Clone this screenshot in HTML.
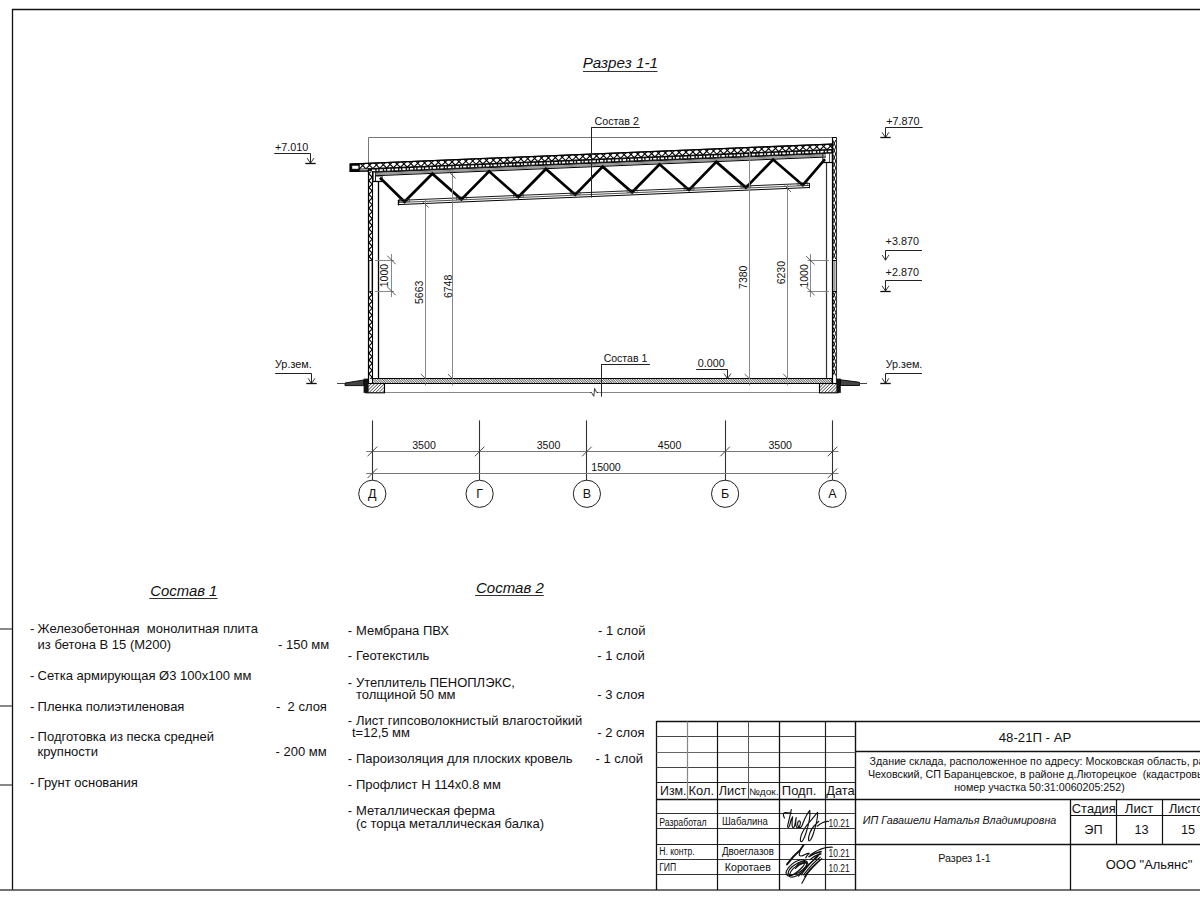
<!DOCTYPE html><html><head><meta charset="utf-8"><style>html,body{margin:0;padding:0;background:#fff;}svg{display:block;}text{font-family:"Liberation Sans", sans-serif;white-space:pre;}</style></head><body>
<svg width="1200" height="900" viewBox="0 0 1200 900">
<defs>
<pattern id="hatch" patternUnits="userSpaceOnUse" width="2.3" height="2.3" patternTransform="rotate(45)"><rect width="2.3" height="2.3" fill="#fff"/><line x1="0" y1="0" x2="0" y2="2.3" stroke="#000" stroke-width="1.05"/></pattern>
<pattern id="hatch2" patternUnits="userSpaceOnUse" width="1.7" height="1.7" patternTransform="rotate(-45)"><rect width="1.7" height="1.7" fill="#fff"/><line x1="0" y1="0" x2="0" y2="1.7" stroke="#000" stroke-width="1.1"/></pattern>
</defs>
<rect width="1200" height="900" fill="#fff"/>
<line x1="12.00" y1="9.50" x2="1200.00" y2="9.50" stroke="#111" stroke-width="1.4" />
<line x1="12.50" y1="9.00" x2="12.50" y2="890.00" stroke="#111" stroke-width="1.3" />
<line x1="0.00" y1="890.00" x2="1200.00" y2="890.00" stroke="#444" stroke-width="1.6" />
<line x1="0.00" y1="629.00" x2="12.00" y2="629.00" stroke="#555" stroke-width="1.4" />
<line x1="0.00" y1="706.00" x2="12.00" y2="706.00" stroke="#555" stroke-width="1.4" />
<line x1="0.00" y1="785.00" x2="12.00" y2="785.00" stroke="#555" stroke-width="1.4" />
<text x="620.30" y="68.40" font-size="15.2" text-anchor="middle" font-style="italic" fill="#111" >Разрез 1-1</text>
<line x1="583.00" y1="71.50" x2="657.50" y2="71.50" stroke="#333" stroke-width="1.2" />
<line x1="368.50" y1="137.50" x2="832.50" y2="137.50" stroke="#777" stroke-width="1.0" />
<line x1="368.50" y1="137.50" x2="368.50" y2="164.50" stroke="#777" stroke-width="1.0" />
<polygon points="359.00,163.63 832.20,143.99 832.20,149.49 359.00,169.13" stroke="#000" stroke-width="0.9" fill="#fff" />
<clipPath id="insclip"><polygon points="359,163.63 832.2,143.99 832.2,149.79 359,169.43"/></clipPath>
<path d="M346.60,163.81 L352.20,169.41 L357.80,163.81 M353.48,163.52 L359.08,169.12 L364.68,163.52 M360.36,163.24 L365.96,168.84 L371.56,163.24 M367.24,162.95 L372.84,168.55 L378.44,162.95 M374.12,162.67 L379.72,168.27 L385.32,162.67 M381.00,162.38 L386.60,167.98 L392.20,162.38 M387.88,162.10 L393.48,167.70 L399.08,162.10 M394.76,161.81 L400.36,167.41 L405.96,161.81 M401.64,161.52 L407.24,167.12 L412.84,161.52 M408.52,161.24 L414.12,166.84 L419.72,161.24 M415.40,160.95 L421.00,166.55 L426.60,160.95 M422.28,160.67 L427.88,166.27 L433.48,160.67 M429.16,160.38 L434.76,165.98 L440.36,160.38 M436.04,160.10 L441.64,165.70 L447.24,160.10 M442.92,159.81 L448.52,165.41 L454.12,159.81 M449.80,159.53 L455.40,165.13 L461.00,159.53 M456.68,159.24 L462.28,164.84 L467.88,159.24 M463.56,158.95 L469.16,164.55 L474.76,158.95 M470.44,158.67 L476.04,164.27 L481.64,158.67 M477.32,158.38 L482.92,163.98 L488.52,158.38 M484.20,158.10 L489.80,163.70 L495.40,158.10 M491.08,157.81 L496.68,163.41 L502.28,157.81 M497.96,157.53 L503.56,163.13 L509.16,157.53 M504.84,157.24 L510.44,162.84 L516.04,157.24 M511.72,156.96 L517.32,162.56 L522.92,156.96 M518.60,156.67 L524.20,162.27 L529.80,156.67 M525.48,156.39 L531.08,161.99 L536.68,156.39 M532.36,156.10 L537.96,161.70 L543.56,156.10 M539.24,155.81 L544.84,161.41 L550.44,155.81 M546.12,155.53 L551.72,161.13 L557.32,155.53 M553.00,155.24 L558.60,160.84 L564.20,155.24 M559.88,154.96 L565.48,160.56 L571.08,154.96 M566.76,154.67 L572.36,160.27 L577.96,154.67 M573.64,154.39 L579.24,159.99 L584.84,154.39 M580.52,154.10 L586.12,159.70 L591.72,154.10 M587.40,153.82 L593.00,159.42 L598.60,153.82 M594.28,153.53 L599.88,159.13 L605.48,153.53 M601.16,153.24 L606.76,158.84 L612.36,153.24 M608.04,152.96 L613.64,158.56 L619.24,152.96 M614.92,152.67 L620.52,158.27 L626.12,152.67 M621.80,152.39 L627.40,157.99 L633.00,152.39 M628.68,152.10 L634.28,157.70 L639.88,152.10 M635.56,151.82 L641.16,157.42 L646.76,151.82 M642.44,151.53 L648.04,157.13 L653.64,151.53 M649.32,151.25 L654.92,156.85 L660.52,151.25 M656.20,150.96 L661.80,156.56 L667.40,150.96 M663.08,150.67 L668.68,156.27 L674.28,150.67 M669.96,150.39 L675.56,155.99 L681.16,150.39 M676.84,150.10 L682.44,155.70 L688.04,150.10 M683.72,149.82 L689.32,155.42 L694.92,149.82 M690.60,149.53 L696.20,155.13 L701.80,149.53 M697.48,149.25 L703.08,154.85 L708.68,149.25 M704.36,148.96 L709.96,154.56 L715.56,148.96 M711.24,148.68 L716.84,154.28 L722.44,148.68 M718.12,148.39 L723.72,153.99 L729.32,148.39 M725.00,148.11 L730.60,153.71 L736.20,148.11 M731.88,147.82 L737.48,153.42 L743.08,147.82 M738.76,147.53 L744.36,153.13 L749.96,147.53 M745.64,147.25 L751.24,152.85 L756.84,147.25 M752.52,146.96 L758.12,152.56 L763.72,146.96 M759.40,146.68 L765.00,152.28 L770.60,146.68 M766.28,146.39 L771.88,151.99 L777.48,146.39 M773.16,146.11 L778.76,151.71 L784.36,146.11 M780.04,145.82 L785.64,151.42 L791.24,145.82 M786.92,145.54 L792.52,151.14 L798.12,145.54 M793.80,145.25 L799.40,150.85 L805.00,145.25 M800.68,144.96 L806.28,150.56 L811.88,144.96 M807.56,144.68 L813.16,150.28 L818.76,144.68 M814.44,144.39 L820.04,149.99 L825.64,144.39 M821.32,144.11 L826.92,149.71 L832.52,144.11 M828.20,143.82 L833.80,149.42 L839.40,143.82 M835.08,143.54 L840.68,149.14 L846.28,143.54" fill="none" stroke="#000" stroke-width="1.1" clip-path="url(#insclip)"/>
<polygon points="368.00,168.75 832.20,149.49 832.20,152.99 368.00,172.25" stroke="#000" stroke-width="0.6" fill="#111" />
<rect x="372.00" y="169.59" width="3.2" height="1.7" fill="#fff" transform="rotate(-2.38 372.00 169.59)"/>
<rect x="376.60" y="169.40" width="1.6" height="1.7" fill="#fff" transform="rotate(-2.38 376.60 169.40)"/>
<rect x="379.60" y="169.27" width="3.2" height="1.7" fill="#fff" transform="rotate(-2.38 379.60 169.27)"/>
<rect x="384.20" y="169.08" width="1.6" height="1.7" fill="#fff" transform="rotate(-2.38 384.20 169.08)"/>
<rect x="387.20" y="168.96" width="3.2" height="1.7" fill="#fff" transform="rotate(-2.38 387.20 168.96)"/>
<rect x="391.80" y="168.77" width="1.6" height="1.7" fill="#fff" transform="rotate(-2.38 391.80 168.77)"/>
<rect x="394.80" y="168.64" width="3.2" height="1.7" fill="#fff" transform="rotate(-2.38 394.80 168.64)"/>
<rect x="399.40" y="168.45" width="1.6" height="1.7" fill="#fff" transform="rotate(-2.38 399.40 168.45)"/>
<rect x="402.40" y="168.33" width="3.2" height="1.7" fill="#fff" transform="rotate(-2.38 402.40 168.33)"/>
<rect x="407.00" y="168.13" width="1.6" height="1.7" fill="#fff" transform="rotate(-2.38 407.00 168.13)"/>
<rect x="410.00" y="168.01" width="3.2" height="1.7" fill="#fff" transform="rotate(-2.38 410.00 168.01)"/>
<rect x="414.60" y="167.82" width="1.6" height="1.7" fill="#fff" transform="rotate(-2.38 414.60 167.82)"/>
<rect x="417.60" y="167.69" width="3.2" height="1.7" fill="#fff" transform="rotate(-2.38 417.60 167.69)"/>
<rect x="422.20" y="167.50" width="1.6" height="1.7" fill="#fff" transform="rotate(-2.38 422.20 167.50)"/>
<rect x="425.20" y="167.38" width="3.2" height="1.7" fill="#fff" transform="rotate(-2.38 425.20 167.38)"/>
<rect x="429.80" y="167.19" width="1.6" height="1.7" fill="#fff" transform="rotate(-2.38 429.80 167.19)"/>
<rect x="432.80" y="167.06" width="3.2" height="1.7" fill="#fff" transform="rotate(-2.38 432.80 167.06)"/>
<rect x="437.40" y="166.87" width="1.6" height="1.7" fill="#fff" transform="rotate(-2.38 437.40 166.87)"/>
<rect x="440.40" y="166.75" width="3.2" height="1.7" fill="#fff" transform="rotate(-2.38 440.40 166.75)"/>
<rect x="445.00" y="166.56" width="1.6" height="1.7" fill="#fff" transform="rotate(-2.38 445.00 166.56)"/>
<rect x="448.00" y="166.43" width="3.2" height="1.7" fill="#fff" transform="rotate(-2.38 448.00 166.43)"/>
<rect x="452.60" y="166.24" width="1.6" height="1.7" fill="#fff" transform="rotate(-2.38 452.60 166.24)"/>
<rect x="455.60" y="166.12" width="3.2" height="1.7" fill="#fff" transform="rotate(-2.38 455.60 166.12)"/>
<rect x="460.20" y="165.93" width="1.6" height="1.7" fill="#fff" transform="rotate(-2.38 460.20 165.93)"/>
<rect x="463.20" y="165.80" width="3.2" height="1.7" fill="#fff" transform="rotate(-2.38 463.20 165.80)"/>
<rect x="467.80" y="165.61" width="1.6" height="1.7" fill="#fff" transform="rotate(-2.38 467.80 165.61)"/>
<rect x="470.80" y="165.49" width="3.2" height="1.7" fill="#fff" transform="rotate(-2.38 470.80 165.49)"/>
<rect x="475.40" y="165.30" width="1.6" height="1.7" fill="#fff" transform="rotate(-2.38 475.40 165.30)"/>
<rect x="478.40" y="165.17" width="3.2" height="1.7" fill="#fff" transform="rotate(-2.38 478.40 165.17)"/>
<rect x="483.00" y="164.98" width="1.6" height="1.7" fill="#fff" transform="rotate(-2.38 483.00 164.98)"/>
<rect x="486.00" y="164.86" width="3.2" height="1.7" fill="#fff" transform="rotate(-2.38 486.00 164.86)"/>
<rect x="490.60" y="164.67" width="1.6" height="1.7" fill="#fff" transform="rotate(-2.38 490.60 164.67)"/>
<rect x="493.60" y="164.54" width="3.2" height="1.7" fill="#fff" transform="rotate(-2.38 493.60 164.54)"/>
<rect x="498.20" y="164.35" width="1.6" height="1.7" fill="#fff" transform="rotate(-2.38 498.20 164.35)"/>
<rect x="501.20" y="164.23" width="3.2" height="1.7" fill="#fff" transform="rotate(-2.38 501.20 164.23)"/>
<rect x="505.80" y="164.03" width="1.6" height="1.7" fill="#fff" transform="rotate(-2.38 505.80 164.03)"/>
<rect x="508.80" y="163.91" width="3.2" height="1.7" fill="#fff" transform="rotate(-2.38 508.80 163.91)"/>
<rect x="513.40" y="163.72" width="1.6" height="1.7" fill="#fff" transform="rotate(-2.38 513.40 163.72)"/>
<rect x="516.40" y="163.59" width="3.2" height="1.7" fill="#fff" transform="rotate(-2.38 516.40 163.59)"/>
<rect x="521.00" y="163.40" width="1.6" height="1.7" fill="#fff" transform="rotate(-2.38 521.00 163.40)"/>
<rect x="524.00" y="163.28" width="3.2" height="1.7" fill="#fff" transform="rotate(-2.38 524.00 163.28)"/>
<rect x="528.60" y="163.09" width="1.6" height="1.7" fill="#fff" transform="rotate(-2.38 528.60 163.09)"/>
<rect x="531.60" y="162.96" width="3.2" height="1.7" fill="#fff" transform="rotate(-2.38 531.60 162.96)"/>
<rect x="536.20" y="162.77" width="1.6" height="1.7" fill="#fff" transform="rotate(-2.38 536.20 162.77)"/>
<rect x="539.20" y="162.65" width="3.2" height="1.7" fill="#fff" transform="rotate(-2.38 539.20 162.65)"/>
<rect x="543.80" y="162.46" width="1.6" height="1.7" fill="#fff" transform="rotate(-2.38 543.80 162.46)"/>
<rect x="546.80" y="162.33" width="3.2" height="1.7" fill="#fff" transform="rotate(-2.38 546.80 162.33)"/>
<rect x="551.40" y="162.14" width="1.6" height="1.7" fill="#fff" transform="rotate(-2.38 551.40 162.14)"/>
<rect x="554.40" y="162.02" width="3.2" height="1.7" fill="#fff" transform="rotate(-2.38 554.40 162.02)"/>
<rect x="559.00" y="161.83" width="1.6" height="1.7" fill="#fff" transform="rotate(-2.38 559.00 161.83)"/>
<rect x="562.00" y="161.70" width="3.2" height="1.7" fill="#fff" transform="rotate(-2.38 562.00 161.70)"/>
<rect x="566.60" y="161.51" width="1.6" height="1.7" fill="#fff" transform="rotate(-2.38 566.60 161.51)"/>
<rect x="569.60" y="161.39" width="3.2" height="1.7" fill="#fff" transform="rotate(-2.38 569.60 161.39)"/>
<rect x="574.20" y="161.20" width="1.6" height="1.7" fill="#fff" transform="rotate(-2.38 574.20 161.20)"/>
<rect x="577.20" y="161.07" width="3.2" height="1.7" fill="#fff" transform="rotate(-2.38 577.20 161.07)"/>
<rect x="581.80" y="160.88" width="1.6" height="1.7" fill="#fff" transform="rotate(-2.38 581.80 160.88)"/>
<rect x="584.80" y="160.76" width="3.2" height="1.7" fill="#fff" transform="rotate(-2.38 584.80 160.76)"/>
<rect x="589.40" y="160.56" width="1.6" height="1.7" fill="#fff" transform="rotate(-2.38 589.40 160.56)"/>
<rect x="592.40" y="160.44" width="3.2" height="1.7" fill="#fff" transform="rotate(-2.38 592.40 160.44)"/>
<rect x="597.00" y="160.25" width="1.6" height="1.7" fill="#fff" transform="rotate(-2.38 597.00 160.25)"/>
<rect x="600.00" y="160.12" width="3.2" height="1.7" fill="#fff" transform="rotate(-2.38 600.00 160.12)"/>
<rect x="604.60" y="159.93" width="1.6" height="1.7" fill="#fff" transform="rotate(-2.38 604.60 159.93)"/>
<rect x="607.60" y="159.81" width="3.2" height="1.7" fill="#fff" transform="rotate(-2.38 607.60 159.81)"/>
<rect x="612.20" y="159.62" width="1.6" height="1.7" fill="#fff" transform="rotate(-2.38 612.20 159.62)"/>
<rect x="615.20" y="159.49" width="3.2" height="1.7" fill="#fff" transform="rotate(-2.38 615.20 159.49)"/>
<rect x="619.80" y="159.30" width="1.6" height="1.7" fill="#fff" transform="rotate(-2.38 619.80 159.30)"/>
<rect x="622.80" y="159.18" width="3.2" height="1.7" fill="#fff" transform="rotate(-2.38 622.80 159.18)"/>
<rect x="627.40" y="158.99" width="1.6" height="1.7" fill="#fff" transform="rotate(-2.38 627.40 158.99)"/>
<rect x="630.40" y="158.86" width="3.2" height="1.7" fill="#fff" transform="rotate(-2.38 630.40 158.86)"/>
<rect x="635.00" y="158.67" width="1.6" height="1.7" fill="#fff" transform="rotate(-2.38 635.00 158.67)"/>
<rect x="638.00" y="158.55" width="3.2" height="1.7" fill="#fff" transform="rotate(-2.38 638.00 158.55)"/>
<rect x="642.60" y="158.36" width="1.6" height="1.7" fill="#fff" transform="rotate(-2.38 642.60 158.36)"/>
<rect x="645.60" y="158.23" width="3.2" height="1.7" fill="#fff" transform="rotate(-2.38 645.60 158.23)"/>
<rect x="650.20" y="158.04" width="1.6" height="1.7" fill="#fff" transform="rotate(-2.38 650.20 158.04)"/>
<rect x="653.20" y="157.92" width="3.2" height="1.7" fill="#fff" transform="rotate(-2.38 653.20 157.92)"/>
<rect x="657.80" y="157.73" width="1.6" height="1.7" fill="#fff" transform="rotate(-2.38 657.80 157.73)"/>
<rect x="660.80" y="157.60" width="3.2" height="1.7" fill="#fff" transform="rotate(-2.38 660.80 157.60)"/>
<rect x="665.40" y="157.41" width="1.6" height="1.7" fill="#fff" transform="rotate(-2.38 665.40 157.41)"/>
<rect x="668.40" y="157.29" width="3.2" height="1.7" fill="#fff" transform="rotate(-2.38 668.40 157.29)"/>
<rect x="673.00" y="157.10" width="1.6" height="1.7" fill="#fff" transform="rotate(-2.38 673.00 157.10)"/>
<rect x="676.00" y="156.97" width="3.2" height="1.7" fill="#fff" transform="rotate(-2.38 676.00 156.97)"/>
<rect x="680.60" y="156.78" width="1.6" height="1.7" fill="#fff" transform="rotate(-2.38 680.60 156.78)"/>
<rect x="683.60" y="156.66" width="3.2" height="1.7" fill="#fff" transform="rotate(-2.38 683.60 156.66)"/>
<rect x="688.20" y="156.46" width="1.6" height="1.7" fill="#fff" transform="rotate(-2.38 688.20 156.46)"/>
<rect x="691.20" y="156.34" width="3.2" height="1.7" fill="#fff" transform="rotate(-2.38 691.20 156.34)"/>
<rect x="695.80" y="156.15" width="1.6" height="1.7" fill="#fff" transform="rotate(-2.38 695.80 156.15)"/>
<rect x="698.80" y="156.02" width="3.2" height="1.7" fill="#fff" transform="rotate(-2.38 698.80 156.02)"/>
<rect x="703.40" y="155.83" width="1.6" height="1.7" fill="#fff" transform="rotate(-2.38 703.40 155.83)"/>
<rect x="706.40" y="155.71" width="3.2" height="1.7" fill="#fff" transform="rotate(-2.38 706.40 155.71)"/>
<rect x="711.00" y="155.52" width="1.6" height="1.7" fill="#fff" transform="rotate(-2.38 711.00 155.52)"/>
<rect x="714.00" y="155.39" width="3.2" height="1.7" fill="#fff" transform="rotate(-2.38 714.00 155.39)"/>
<rect x="718.60" y="155.20" width="1.6" height="1.7" fill="#fff" transform="rotate(-2.38 718.60 155.20)"/>
<rect x="721.60" y="155.08" width="3.2" height="1.7" fill="#fff" transform="rotate(-2.38 721.60 155.08)"/>
<rect x="726.20" y="154.89" width="1.6" height="1.7" fill="#fff" transform="rotate(-2.38 726.20 154.89)"/>
<rect x="729.20" y="154.76" width="3.2" height="1.7" fill="#fff" transform="rotate(-2.38 729.20 154.76)"/>
<rect x="733.80" y="154.57" width="1.6" height="1.7" fill="#fff" transform="rotate(-2.38 733.80 154.57)"/>
<rect x="736.80" y="154.45" width="3.2" height="1.7" fill="#fff" transform="rotate(-2.38 736.80 154.45)"/>
<rect x="741.40" y="154.26" width="1.6" height="1.7" fill="#fff" transform="rotate(-2.38 741.40 154.26)"/>
<rect x="744.40" y="154.13" width="3.2" height="1.7" fill="#fff" transform="rotate(-2.38 744.40 154.13)"/>
<rect x="749.00" y="153.94" width="1.6" height="1.7" fill="#fff" transform="rotate(-2.38 749.00 153.94)"/>
<rect x="752.00" y="153.82" width="3.2" height="1.7" fill="#fff" transform="rotate(-2.38 752.00 153.82)"/>
<rect x="756.60" y="153.63" width="1.6" height="1.7" fill="#fff" transform="rotate(-2.38 756.60 153.63)"/>
<rect x="759.60" y="153.50" width="3.2" height="1.7" fill="#fff" transform="rotate(-2.38 759.60 153.50)"/>
<rect x="764.20" y="153.31" width="1.6" height="1.7" fill="#fff" transform="rotate(-2.38 764.20 153.31)"/>
<rect x="767.20" y="153.19" width="3.2" height="1.7" fill="#fff" transform="rotate(-2.38 767.20 153.19)"/>
<rect x="771.80" y="153.00" width="1.6" height="1.7" fill="#fff" transform="rotate(-2.38 771.80 153.00)"/>
<rect x="774.80" y="152.87" width="3.2" height="1.7" fill="#fff" transform="rotate(-2.38 774.80 152.87)"/>
<rect x="779.40" y="152.68" width="1.6" height="1.7" fill="#fff" transform="rotate(-2.38 779.40 152.68)"/>
<rect x="782.40" y="152.56" width="3.2" height="1.7" fill="#fff" transform="rotate(-2.38 782.40 152.56)"/>
<rect x="787.00" y="152.36" width="1.6" height="1.7" fill="#fff" transform="rotate(-2.38 787.00 152.36)"/>
<rect x="790.00" y="152.24" width="3.2" height="1.7" fill="#fff" transform="rotate(-2.38 790.00 152.24)"/>
<rect x="794.60" y="152.05" width="1.6" height="1.7" fill="#fff" transform="rotate(-2.38 794.60 152.05)"/>
<rect x="797.60" y="151.92" width="3.2" height="1.7" fill="#fff" transform="rotate(-2.38 797.60 151.92)"/>
<rect x="802.20" y="151.73" width="1.6" height="1.7" fill="#fff" transform="rotate(-2.38 802.20 151.73)"/>
<rect x="805.20" y="151.61" width="3.2" height="1.7" fill="#fff" transform="rotate(-2.38 805.20 151.61)"/>
<rect x="809.80" y="151.42" width="1.6" height="1.7" fill="#fff" transform="rotate(-2.38 809.80 151.42)"/>
<rect x="812.80" y="151.29" width="3.2" height="1.7" fill="#fff" transform="rotate(-2.38 812.80 151.29)"/>
<rect x="817.40" y="151.10" width="1.6" height="1.7" fill="#fff" transform="rotate(-2.38 817.40 151.10)"/>
<rect x="820.40" y="150.98" width="3.2" height="1.7" fill="#fff" transform="rotate(-2.38 820.40 150.98)"/>
<rect x="825.00" y="150.79" width="1.6" height="1.7" fill="#fff" transform="rotate(-2.38 825.00 150.79)"/>
<rect x="828.00" y="150.66" width="3.2" height="1.7" fill="#fff" transform="rotate(-2.38 828.00 150.66)"/>
<line x1="350.00" y1="164.10" x2="832.20" y2="144.10" stroke="#000" stroke-width="1.3" />
<polygon points="350.00,164.00 359.00,163.63 359.00,171.40 350.00,171.40" stroke="#000" stroke-width="1.2" fill="#111" />
<rect x="352.2" y="165.8" width="6.2" height="3.0" fill="#fff"/>
<line x1="350.00" y1="171.30" x2="368.00" y2="171.00" stroke="#000" stroke-width="1.4" />
<line x1="375.50" y1="172.34" x2="826.00" y2="153.65" stroke="#000" stroke-width="0.9" />
<line x1="375.50" y1="173.54" x2="826.00" y2="154.85" stroke="#333" stroke-width="0.6" />
<line x1="375.50" y1="174.64" x2="826.00" y2="155.95" stroke="#333" stroke-width="0.6" />
<line x1="375.50" y1="175.74" x2="826.00" y2="157.05" stroke="#000" stroke-width="1.0" />
<line x1="397.80" y1="200.42" x2="809.00" y2="183.35" stroke="#000" stroke-width="0.9" />
<line x1="397.80" y1="202.52" x2="809.00" y2="185.45" stroke="#222" stroke-width="0.8" />
<line x1="397.80" y1="204.62" x2="809.00" y2="187.55" stroke="#000" stroke-width="1.0" />
<line x1="398.50" y1="199.72" x2="398.50" y2="205.32" stroke="#000" stroke-width="1.2" />
<line x1="809.50" y1="182.95" x2="809.50" y2="188.25" stroke="#111" stroke-width="1.0" />
<polyline points="380.00,177.80 404.50,201.74 432.30,173.68 461.40,199.38 489.10,171.33 518.30,197.02 545.90,168.97 575.20,194.65 602.70,166.61 632.10,192.29 659.50,164.26 689.00,189.93 716.30,161.90 745.90,187.57 773.10,159.54 802.80,185.21 825.00,159.20" stroke="#000" stroke-width="2.7" fill="none" stroke-linejoin="miter"/>
<rect x="399.50" y="199.24" width="10" height="2.5" fill="none" stroke="#333" stroke-width="0.6"/>
<rect x="456.40" y="196.88" width="10" height="2.5" fill="none" stroke="#333" stroke-width="0.6"/>
<rect x="513.30" y="194.52" width="10" height="2.5" fill="none" stroke="#333" stroke-width="0.6"/>
<rect x="570.20" y="192.15" width="10" height="2.5" fill="none" stroke="#333" stroke-width="0.6"/>
<rect x="627.10" y="189.79" width="10" height="2.5" fill="none" stroke="#333" stroke-width="0.6"/>
<rect x="684.00" y="187.43" width="10" height="2.5" fill="none" stroke="#333" stroke-width="0.6"/>
<rect x="740.90" y="185.07" width="10" height="2.5" fill="none" stroke="#333" stroke-width="0.6"/>
<rect x="797.80" y="182.71" width="10" height="2.5" fill="none" stroke="#333" stroke-width="0.6"/>
<rect x="368.4" y="171" width="4.3" height="212" fill="#fff"/>
<clipPath id="wc171"><rect x="368.60" y="171.50" width="4.00" height="88.50"/></clipPath>
<path d="M373.10,155.60 L368.80,159.90 L373.10,164.20 M373.10,162.50 L368.80,166.80 L373.10,171.10 M373.10,169.40 L368.80,173.70 L373.10,178.00 M373.10,176.30 L368.80,180.60 L373.10,184.90 M373.10,183.20 L368.80,187.50 L373.10,191.80 M373.10,190.10 L368.80,194.40 L373.10,198.70 M373.10,197.00 L368.80,201.30 L373.10,205.60 M373.10,203.90 L368.80,208.20 L373.10,212.50 M373.10,210.80 L368.80,215.10 L373.10,219.40 M373.10,217.70 L368.80,222.00 L373.10,226.30 M373.10,224.60 L368.80,228.90 L373.10,233.20 M373.10,231.50 L368.80,235.80 L373.10,240.10 M373.10,238.40 L368.80,242.70 L373.10,247.00 M373.10,245.30 L368.80,249.60 L373.10,253.90 M373.10,252.20 L368.80,256.50 L373.10,260.80 M373.10,259.10 L368.80,263.40 L373.10,267.70" fill="none" stroke="#000" stroke-width="1.2" clip-path="url(#wc171)"/>
<clipPath id="wc291"><rect x="368.60" y="291.00" width="4.00" height="88.00"/></clipPath>
<path d="M373.10,272.90 L368.80,277.20 L373.10,281.50 M373.10,279.80 L368.80,284.10 L373.10,288.40 M373.10,286.70 L368.80,291.00 L373.10,295.30 M373.10,293.60 L368.80,297.90 L373.10,302.20 M373.10,300.50 L368.80,304.80 L373.10,309.10 M373.10,307.40 L368.80,311.70 L373.10,316.00 M373.10,314.30 L368.80,318.60 L373.10,322.90 M373.10,321.20 L368.80,325.50 L373.10,329.80 M373.10,328.10 L368.80,332.40 L373.10,336.70 M373.10,335.00 L368.80,339.30 L373.10,343.60 M373.10,341.90 L368.80,346.20 L373.10,350.50 M373.10,348.80 L368.80,353.10 L373.10,357.40 M373.10,355.70 L368.80,360.00 L373.10,364.30 M373.10,362.60 L368.80,366.90 L373.10,371.20 M373.10,369.50 L368.80,373.80 L373.10,378.10 M373.10,376.40 L368.80,380.70 L373.10,385.00" fill="none" stroke="#000" stroke-width="1.2" clip-path="url(#wc291)"/>
<line x1="368.50" y1="171.00" x2="368.50" y2="383.00" stroke="#000" stroke-width="1.2" />
<line x1="372.50" y1="171.00" x2="372.50" y2="383.00" stroke="#000" stroke-width="1.1" />
<line x1="368.50" y1="260.50" x2="372.60" y2="260.50" stroke="#000" stroke-width="1.0" />
<line x1="368.50" y1="291.50" x2="372.60" y2="291.50" stroke="#000" stroke-width="1.0" />
<line x1="369.50" y1="260.50" x2="369.50" y2="291.50" stroke="#999" stroke-width="0.8" />
<line x1="371.50" y1="260.50" x2="371.50" y2="291.50" stroke="#888" stroke-width="0.8" />
<line x1="378.50" y1="181.00" x2="378.50" y2="379.00" stroke="#000" stroke-width="1.3" />
<rect x="373.2" y="172" width="2.2" height="9.3" fill="none" stroke="#111" stroke-width="0.8"/>
<rect x="375.4" y="176" width="6.8" height="5.3" fill="none" stroke="#111" stroke-width="0.8"/>
<line x1="372.80" y1="181.50" x2="382.50" y2="181.50" stroke="#000" stroke-width="1.2" />
<rect x="832.4" y="137.4" width="3.8" height="245" fill="#fff"/>
<polyline points="832.60,140.00 835.80,147.00 832.60,154.00 835.80,161.00 832.60,168.00 835.80,175.00 832.60,182.00 835.80,189.00 832.60,196.00 835.80,203.00 832.60,210.00 835.80,217.00 832.60,224.00 835.80,231.00 832.60,238.00 835.80,245.00 832.60,252.00 835.80,259.00" stroke="#000" stroke-width="0.95" fill="none" />
<polyline points="835.80,140.00 832.60,147.00 835.80,154.00 832.60,161.00 835.80,168.00 832.60,175.00 835.80,182.00 832.60,189.00 835.80,196.00 832.60,203.00 835.80,210.00 832.60,217.00 835.80,224.00 832.60,231.00 835.80,238.00 832.60,245.00 835.80,252.00 832.60,259.00" stroke="#000" stroke-width="0.95" fill="none" />
<polyline points="832.60,291.50 835.80,298.50 832.60,305.50 835.80,312.50 832.60,319.50 835.80,326.50 832.60,333.50 835.80,340.50 832.60,347.50 835.80,354.50 832.60,361.50 835.80,368.50 832.60,375.50" stroke="#000" stroke-width="0.95" fill="none" />
<polyline points="835.80,291.50 832.60,298.50 835.80,305.50 832.60,312.50 835.80,319.50 832.60,326.50 835.80,333.50 832.60,340.50 835.80,347.50 832.60,354.50 835.80,361.50 832.60,368.50 835.80,375.50" stroke="#000" stroke-width="0.95" fill="none" />
<rect x="833.3" y="260.3" width="2.2" height="30.7" fill="#999"/>
<line x1="832.50" y1="137.30" x2="832.50" y2="383.00" stroke="#000" stroke-width="1.2" />
<line x1="836.50" y1="137.30" x2="836.50" y2="383.00" stroke="#333" stroke-width="1.1" />
<line x1="832.40" y1="137.50" x2="836.40" y2="137.50" stroke="#000" stroke-width="1.0" />
<line x1="832.40" y1="260.50" x2="836.40" y2="260.50" stroke="#000" stroke-width="1.0" />
<line x1="832.40" y1="291.50" x2="836.40" y2="291.50" stroke="#000" stroke-width="1.0" />
<line x1="826.50" y1="162.50" x2="826.50" y2="379.00" stroke="#333" stroke-width="1.2" />
<rect x="822.8" y="153" width="9.4" height="9.6" fill="none" stroke="#111" stroke-width="0.8"/>
<line x1="829.50" y1="153.00" x2="829.50" y2="162.60" stroke="#222" stroke-width="0.8" />
<line x1="822.80" y1="162.50" x2="832.20" y2="162.50" stroke="#000" stroke-width="1.2" />
<rect x="372.5" y="378.5" width="459.5" height="5" fill="url(#hatch2)" stroke="#000" stroke-width="1.0"/>
<line x1="384.80" y1="392.50" x2="819.60" y2="392.50" stroke="#888" stroke-width="1.0" />
<rect x="366" y="383.5" width="18.5" height="9.3" fill="url(#hatch)" stroke="#000" stroke-width="1.1"/>
<rect x="363.6" y="378.6" width="5" height="14.3" fill="#111"/>
<rect x="819.5" y="383.5" width="18.5" height="9.3" fill="url(#hatch)" stroke="#000" stroke-width="1.1"/>
<rect x="836.4" y="378.6" width="4.4" height="14.3" fill="#111"/>
<polygon points="345.00,383.00 363.60,380.00 363.60,385.60 345.00,385.60" stroke="#000" stroke-width="0.9" fill="#444" />
<polygon points="840.50,379.80 859.50,382.30 859.50,385.50 840.50,385.50" stroke="#000" stroke-width="0.9" fill="#444" />
<line x1="337.00" y1="383.50" x2="345.00" y2="383.50" stroke="#333" stroke-width="0.9" />
<line x1="859.00" y1="383.50" x2="867.00" y2="383.50" stroke="#333" stroke-width="0.9" />
<rect x="590" y="391.5" width="7" height="2" fill="#fff"/>
<polyline points="590.00,392.50 591.50,392.50 593.80,396.30 594.60,388.40 596.70,392.50 598.00,392.50" stroke="#222" stroke-width="0.9" fill="none" />
<line x1="452.50" y1="172.85" x2="452.50" y2="379.00" stroke="#888" stroke-width="1.0" />
<line x1="449.30" y1="172.15" x2="455.70" y2="178.55" stroke="#444" stroke-width="0.9" />
<line x1="447.90" y1="374.10" x2="452.50" y2="378.60" stroke="#444" stroke-width="0.9" />
<line x1="452.50" y1="383.50" x2="452.50" y2="385.50" stroke="#888" stroke-width="1.0" />
<line x1="425.50" y1="199.87" x2="425.50" y2="379.00" stroke="#888" stroke-width="1.0" />
<line x1="422.30" y1="201.17" x2="428.70" y2="207.57" stroke="#444" stroke-width="0.9" />
<line x1="420.90" y1="374.10" x2="425.50" y2="378.60" stroke="#444" stroke-width="0.9" />
<line x1="425.50" y1="383.50" x2="425.50" y2="385.50" stroke="#888" stroke-width="1.0" />
<line x1="749.50" y1="148.43" x2="749.50" y2="379.00" stroke="#888" stroke-width="1.0" />
<line x1="744.70" y1="374.10" x2="749.30" y2="378.60" stroke="#444" stroke-width="0.9" />
<line x1="749.50" y1="383.50" x2="749.50" y2="385.50" stroke="#888" stroke-width="1.0" />
<line x1="787.50" y1="184.83" x2="787.50" y2="379.00" stroke="#888" stroke-width="1.0" />
<line x1="784.70" y1="185.63" x2="791.10" y2="192.03" stroke="#444" stroke-width="0.9" />
<line x1="783.30" y1="374.10" x2="787.90" y2="378.60" stroke="#444" stroke-width="0.9" />
<line x1="787.50" y1="383.50" x2="787.50" y2="385.50" stroke="#888" stroke-width="1.0" />
<line x1="375.00" y1="260.50" x2="394.00" y2="260.50" stroke="#888" stroke-width="1.0" />
<line x1="375.00" y1="291.50" x2="394.00" y2="291.50" stroke="#888" stroke-width="1.0" />
<line x1="391.50" y1="254.00" x2="391.50" y2="297.00" stroke="#888" stroke-width="1.0" />
<line x1="387.30" y1="255.80" x2="395.70" y2="264.20" stroke="#444" stroke-width="0.9" />
<line x1="387.30" y1="286.80" x2="395.70" y2="295.20" stroke="#444" stroke-width="0.9" />
<line x1="807.50" y1="260.50" x2="829.00" y2="260.50" stroke="#888" stroke-width="1.0" />
<line x1="807.50" y1="291.50" x2="829.00" y2="291.50" stroke="#888" stroke-width="1.0" />
<line x1="810.50" y1="254.00" x2="810.50" y2="297.00" stroke="#888" stroke-width="1.0" />
<line x1="806.20" y1="256.10" x2="814.60" y2="264.50" stroke="#444" stroke-width="0.9" />
<line x1="806.20" y1="286.80" x2="814.60" y2="295.20" stroke="#444" stroke-width="0.9" />
<text x="0" y="0" font-size="10.5" text-anchor="middle" fill="#111" transform="translate(384.30,275.60) rotate(-90)" dy="0.36em">1000</text>
<text x="0" y="0" font-size="10.5" text-anchor="middle" fill="#111" transform="translate(419.20,292.30) rotate(-90)" dy="0.36em">5663</text>
<text x="0" y="0" font-size="10.5" text-anchor="middle" fill="#111" transform="translate(448.60,286.40) rotate(-90)" dy="0.36em">6748</text>
<text x="0" y="0" font-size="10.5" text-anchor="middle" fill="#111" transform="translate(743.60,277.25) rotate(-90)" dy="0.36em">7380</text>
<text x="0" y="0" font-size="10.5" text-anchor="middle" fill="#111" transform="translate(781.20,272.70) rotate(-90)" dy="0.36em">6230</text>
<text x="0" y="0" font-size="10.5" text-anchor="middle" fill="#111" transform="translate(804.40,275.90) rotate(-90)" dy="0.36em">1000</text>
<text x="275.00" y="150.60" font-size="10.8" text-anchor="start" fill="#111" >+7.010</text>
<line x1="274.30" y1="153.50" x2="310.50" y2="153.50" stroke="#222" stroke-width="1.0" />
<line x1="310.50" y1="153.50" x2="310.50" y2="163.30" stroke="#222" stroke-width="1.0" />
<polyline points="307.10,158.10 310.50,163.30 313.90,158.10" stroke="#222" stroke-width="0.9" fill="none" />
<line x1="305.30" y1="163.50" x2="315.70" y2="163.50" stroke="#111" stroke-width="1.3" />
<text x="886.30" y="124.80" font-size="10.8" text-anchor="start" fill="#111" >+7.870</text>
<line x1="885.50" y1="127.50" x2="922.70" y2="127.50" stroke="#222" stroke-width="1.0" />
<line x1="885.50" y1="127.50" x2="885.50" y2="137.50" stroke="#222" stroke-width="1.0" />
<polyline points="882.10,132.30 885.50,137.50 888.90,132.30" stroke="#222" stroke-width="0.9" fill="none" />
<line x1="880.30" y1="137.50" x2="890.70" y2="137.50" stroke="#111" stroke-width="1.3" />
<text x="885.60" y="244.80" font-size="10.8" text-anchor="start" fill="#111" >+3.870</text>
<line x1="885.50" y1="250.50" x2="922.00" y2="250.50" stroke="#222" stroke-width="1.0" />
<line x1="885.50" y1="250.50" x2="885.50" y2="260.20" stroke="#222" stroke-width="1.0" />
<polyline points="882.10,255.00 885.50,260.20 888.90,255.00" stroke="#222" stroke-width="0.9" fill="none" />
<text x="885.60" y="275.60" font-size="10.8" text-anchor="start" fill="#111" >+2.870</text>
<line x1="885.50" y1="280.50" x2="922.00" y2="280.50" stroke="#222" stroke-width="1.0" />
<line x1="885.50" y1="280.50" x2="885.50" y2="291.00" stroke="#222" stroke-width="1.0" />
<polyline points="882.10,285.80 885.50,291.00 888.90,285.80" stroke="#222" stroke-width="0.9" fill="none" />
<line x1="880.30" y1="291.50" x2="890.70" y2="291.50" stroke="#111" stroke-width="1.3" />
<text x="275.00" y="367.90" font-size="10.8" text-anchor="start" fill="#111" >Ур.зем.</text>
<line x1="275.20" y1="373.50" x2="311.50" y2="373.50" stroke="#222" stroke-width="1.0" />
<line x1="311.50" y1="373.50" x2="311.50" y2="383.50" stroke="#222" stroke-width="1.0" />
<polyline points="308.10,378.30 311.50,383.50 314.90,378.30" stroke="#222" stroke-width="0.9" fill="none" />
<line x1="306.30" y1="383.50" x2="316.70" y2="383.50" stroke="#111" stroke-width="1.3" />
<text x="885.70" y="367.90" font-size="10.8" text-anchor="start" fill="#111" >Ур.зем.</text>
<line x1="885.50" y1="373.50" x2="922.00" y2="373.50" stroke="#222" stroke-width="1.0" />
<line x1="885.50" y1="373.50" x2="885.50" y2="383.50" stroke="#222" stroke-width="1.0" />
<polyline points="882.10,378.30 885.50,383.50 888.90,378.30" stroke="#222" stroke-width="0.9" fill="none" />
<line x1="880.30" y1="383.50" x2="890.70" y2="383.50" stroke="#111" stroke-width="1.3" />
<text x="697.80" y="366.60" font-size="10.8" text-anchor="start" fill="#111" >0.000</text>
<line x1="696.20" y1="369.50" x2="727.50" y2="369.50" stroke="#222" stroke-width="1.0" />
<line x1="727.50" y1="369.50" x2="727.50" y2="378.80" stroke="#222" stroke-width="1.0" />
<polyline points="724.10,373.60 727.50,378.80 730.90,373.60" stroke="#222" stroke-width="0.9" fill="none" />
<text x="594.60" y="124.80" font-size="10.7" text-anchor="start" fill="#111" >Состав 2</text>
<line x1="591.20" y1="127.50" x2="639.80" y2="127.50" stroke="#222" stroke-width="1.0" />
<line x1="591.50" y1="127.50" x2="591.50" y2="197.50" stroke="#222" stroke-width="1.0" />
<text x="603.70" y="361.90" font-size="10.5" text-anchor="start" fill="#111" >Состав 1</text>
<line x1="601.00" y1="364.50" x2="649.90" y2="364.50" stroke="#222" stroke-width="1.0" />
<line x1="601.50" y1="364.50" x2="601.50" y2="396.60" stroke="#222" stroke-width="1.0" />
<line x1="372.50" y1="420.40" x2="372.50" y2="480.00" stroke="#333" stroke-width="1.1" />
<circle cx="372.3" cy="493.8" r="13.6" fill="none" stroke="#222" stroke-width="1.0"/>
<text x="372.30" y="497.90" font-size="12.5" text-anchor="middle" fill="#111" >Д</text>
<line x1="479.50" y1="420.40" x2="479.50" y2="480.00" stroke="#333" stroke-width="1.1" />
<circle cx="479.6" cy="493.8" r="13.6" fill="none" stroke="#222" stroke-width="1.0"/>
<text x="479.60" y="497.90" font-size="12.5" text-anchor="middle" fill="#111" >Г</text>
<line x1="586.50" y1="420.40" x2="586.50" y2="480.00" stroke="#333" stroke-width="1.1" />
<circle cx="586.9" cy="493.8" r="13.6" fill="none" stroke="#222" stroke-width="1.0"/>
<text x="586.90" y="497.90" font-size="12.5" text-anchor="middle" fill="#111" >В</text>
<line x1="725.50" y1="420.40" x2="725.50" y2="480.00" stroke="#333" stroke-width="1.1" />
<circle cx="725.1" cy="493.8" r="13.6" fill="none" stroke="#222" stroke-width="1.0"/>
<text x="725.10" y="497.90" font-size="12.5" text-anchor="middle" fill="#111" >Б</text>
<line x1="832.50" y1="420.40" x2="832.50" y2="480.00" stroke="#333" stroke-width="1.1" />
<circle cx="832.5" cy="493.8" r="13.6" fill="none" stroke="#222" stroke-width="1.0"/>
<text x="832.50" y="497.90" font-size="12.5" text-anchor="middle" fill="#111" >А</text>
<line x1="366.20" y1="451.50" x2="838.50" y2="451.50" stroke="#777" stroke-width="1.0" />
<line x1="366.20" y1="473.50" x2="838.50" y2="473.50" stroke="#777" stroke-width="1.0" />
<line x1="367.50" y1="456.30" x2="377.10" y2="446.70" stroke="#333" stroke-width="0.9" />
<line x1="474.80" y1="456.30" x2="484.40" y2="446.70" stroke="#333" stroke-width="0.9" />
<line x1="582.10" y1="456.30" x2="591.70" y2="446.70" stroke="#333" stroke-width="0.9" />
<line x1="720.30" y1="456.30" x2="729.90" y2="446.70" stroke="#333" stroke-width="0.9" />
<line x1="827.70" y1="456.30" x2="837.30" y2="446.70" stroke="#333" stroke-width="0.9" />
<line x1="367.50" y1="478.10" x2="377.10" y2="468.50" stroke="#333" stroke-width="0.9" />
<line x1="827.70" y1="478.10" x2="837.30" y2="468.50" stroke="#333" stroke-width="0.9" />
<text x="424.00" y="448.60" font-size="10.6" text-anchor="middle" fill="#111" >3500</text>
<text x="548.50" y="448.60" font-size="10.6" text-anchor="middle" fill="#111" >3500</text>
<text x="669.60" y="448.60" font-size="10.6" text-anchor="middle" fill="#111" >4500</text>
<text x="780.20" y="448.60" font-size="10.6" text-anchor="middle" fill="#111" >3500</text>
<text x="591.30" y="470.60" font-size="10.6" text-anchor="start" fill="#111" >15000</text>
<text x="150.30" y="595.50" font-size="15" text-anchor="start" font-style="italic" textLength="67.0" lengthAdjust="spacingAndGlyphs" fill="#111">Состав 1</text>
<line x1="149.30" y1="598.50" x2="217.60" y2="598.50" stroke="#333" stroke-width="1.0" />
<text x="30.00" y="632.70" font-size="13" text-anchor="start" fill="#111">-</text>
<text x="37.60" y="632.70" font-size="13" text-anchor="start" fill="#111">Железобетонная  монолитная плита</text>
<text x="37.60" y="648.70" font-size="13" text-anchor="start" fill="#111">из бетона В 15 (М200)</text>
<text x="30.00" y="679.90" font-size="13" text-anchor="start" fill="#111">-</text>
<text x="37.60" y="679.90" font-size="13" text-anchor="start" fill="#111">Сетка армирующая Ø3 100х100 мм</text>
<text x="30.00" y="710.50" font-size="13" text-anchor="start" fill="#111">-</text>
<text x="37.60" y="710.50" font-size="13" text-anchor="start" fill="#111">Пленка полиэтиленовая</text>
<text x="30.00" y="741.20" font-size="13" text-anchor="start" fill="#111">-</text>
<text x="37.60" y="741.20" font-size="13" text-anchor="start" fill="#111">Подготовка из песка средней</text>
<text x="37.60" y="756.10" font-size="13" text-anchor="start" fill="#111">крупности</text>
<text x="30.00" y="786.50" font-size="13" text-anchor="start" fill="#111">-</text>
<text x="37.60" y="786.50" font-size="13" text-anchor="start" fill="#111">Грунт основания</text>
<text x="278.00" y="648.70" font-size="13" text-anchor="start" fill="#111">- 150 мм</text>
<text x="276.00" y="710.50" font-size="13" text-anchor="start" fill="#111">-  2 слоя</text>
<text x="275.50" y="756.10" font-size="13" text-anchor="start" fill="#111">- 200 мм</text>
<text x="476.00" y="592.70" font-size="15" text-anchor="start" font-style="italic" textLength="67.8" lengthAdjust="spacingAndGlyphs" fill="#111">Состав 2</text>
<line x1="475.10" y1="595.50" x2="543.80" y2="595.50" stroke="#333" stroke-width="1.0" />
<text x="347.80" y="634.50" font-size="13" text-anchor="start" fill="#111">-</text>
<text x="356.00" y="634.50" font-size="13" text-anchor="start" fill="#111">Мембрана ПВХ</text>
<text x="347.80" y="659.90" font-size="13" text-anchor="start" fill="#111">-</text>
<text x="356.00" y="659.90" font-size="13" text-anchor="start" fill="#111">Геотекстиль</text>
<text x="347.80" y="686.50" font-size="13" text-anchor="start" fill="#111">-</text>
<text x="356.00" y="686.50" font-size="13" text-anchor="start" fill="#111">Утеплитель ПЕНОПЛЭКС,</text>
<text x="356.00" y="698.60" font-size="13" text-anchor="start" fill="#111">толщиной 50 мм</text>
<text x="347.80" y="724.50" font-size="13" text-anchor="start" fill="#111">-</text>
<text x="356.00" y="724.50" font-size="13" text-anchor="start" fill="#111">Лист гипсоволокнистый влагостойкий</text>
<text x="352.00" y="737.30" font-size="13" text-anchor="start" fill="#111">t=12,5 мм</text>
<text x="347.80" y="763.20" font-size="13" text-anchor="start" fill="#111">-</text>
<text x="356.00" y="763.20" font-size="13" text-anchor="start" fill="#111">Пароизоляция для плоских кровель</text>
<text x="347.80" y="789.30" font-size="13" text-anchor="start" fill="#111">-</text>
<text x="356.00" y="789.30" font-size="13" text-anchor="start" fill="#111">Профлист Н 114х0.8 мм</text>
<text x="347.80" y="815.20" font-size="13" text-anchor="start" fill="#111">-</text>
<text x="356.00" y="815.20" font-size="13" text-anchor="start" fill="#111">Металлическая ферма</text>
<text x="356.00" y="828.00" font-size="13" text-anchor="start" fill="#111">(с торца металлическая балка)</text>
<text x="598.00" y="634.50" font-size="13" text-anchor="start" fill="#111">- 1 слой</text>
<text x="597.30" y="659.90" font-size="13" text-anchor="start" fill="#111">- 1 слой</text>
<text x="597.30" y="698.60" font-size="13" text-anchor="start" fill="#111">- 3 слоя</text>
<text x="597.30" y="737.30" font-size="13" text-anchor="start" fill="#111">- 2 слоя</text>
<text x="595.50" y="763.20" font-size="13" text-anchor="start" fill="#111">- 1 слой</text>
<line x1="656.40" y1="721.50" x2="1200.00" y2="721.50" stroke="#111" stroke-width="1.3" />
<line x1="656.50" y1="721.00" x2="656.50" y2="890.00" stroke="#111" stroke-width="1.3" />
<line x1="855.50" y1="721.00" x2="855.50" y2="890.00" stroke="#111" stroke-width="1.4" />
<line x1="656.40" y1="736.50" x2="855.50" y2="736.50" stroke="#444" stroke-width="1.0" />
<line x1="656.40" y1="752.50" x2="855.50" y2="752.50" stroke="#666" stroke-width="1.2" />
<line x1="656.40" y1="767.50" x2="855.50" y2="767.50" stroke="#444" stroke-width="1.0" />
<line x1="656.40" y1="782.50" x2="855.50" y2="782.50" stroke="#222" stroke-width="1.2" />
<line x1="656.40" y1="799.50" x2="855.50" y2="799.50" stroke="#111" stroke-width="1.3" />
<line x1="656.40" y1="813.50" x2="855.50" y2="813.50" stroke="#333" stroke-width="1.0" />
<line x1="656.40" y1="828.50" x2="855.50" y2="828.50" stroke="#333" stroke-width="1.0" />
<line x1="656.40" y1="844.50" x2="855.50" y2="844.50" stroke="#222" stroke-width="1.2" />
<line x1="656.40" y1="859.50" x2="855.50" y2="859.50" stroke="#333" stroke-width="1.0" />
<line x1="656.40" y1="874.50" x2="855.50" y2="874.50" stroke="#333" stroke-width="1.0" />
<line x1="687.50" y1="721.50" x2="687.50" y2="799.80" stroke="#888" stroke-width="1.2" />
<line x1="717.50" y1="721.50" x2="717.50" y2="890.00" stroke="#111" stroke-width="1.2" />
<line x1="748.50" y1="721.50" x2="748.50" y2="799.80" stroke="#555" stroke-width="1.0" />
<line x1="779.50" y1="721.50" x2="779.50" y2="890.00" stroke="#111" stroke-width="1.3" />
<line x1="825.50" y1="721.50" x2="825.50" y2="890.00" stroke="#222" stroke-width="1.2" />
<line x1="855.50" y1="751.50" x2="1200.00" y2="751.50" stroke="#111" stroke-width="1.3" />
<line x1="855.50" y1="799.50" x2="1200.00" y2="799.50" stroke="#111" stroke-width="1.3" />
<line x1="855.50" y1="844.50" x2="1200.00" y2="844.50" stroke="#111" stroke-width="1.3" />
<line x1="1070.50" y1="799.80" x2="1070.50" y2="890.00" stroke="#111" stroke-width="1.3" />
<line x1="1116.50" y1="799.80" x2="1116.50" y2="844.20" stroke="#111" stroke-width="1.2" />
<line x1="1162.50" y1="799.80" x2="1162.50" y2="844.20" stroke="#111" stroke-width="1.2" />
<line x1="1070.20" y1="815.50" x2="1200.00" y2="815.50" stroke="#111" stroke-width="1.2" />
<text x="660.00" y="794.80" font-size="12.2" text-anchor="start" textLength="26.5" lengthAdjust="spacingAndGlyphs" fill="#111">Изм.</text>
<text x="688.60" y="794.80" font-size="12.2" text-anchor="start" textLength="25.5" lengthAdjust="spacingAndGlyphs" fill="#111">Кол.</text>
<text x="718.80" y="794.80" font-size="12.2" text-anchor="start" textLength="27.5" lengthAdjust="spacingAndGlyphs" fill="#111">Лист</text>
<text x="749.00" y="794.80" font-size="9.5" text-anchor="start" textLength="29.5" lengthAdjust="spacingAndGlyphs" fill="#111">№док.</text>
<text x="781.80" y="794.80" font-size="12.2" text-anchor="start" textLength="34.5" lengthAdjust="spacingAndGlyphs" fill="#111">Подп.</text>
<text x="826.20" y="794.80" font-size="12.2" text-anchor="start" textLength="28.5" lengthAdjust="spacingAndGlyphs" fill="#111">Дата</text>
<text x="659.20" y="826.00" font-size="10" text-anchor="start" textLength="47.5" lengthAdjust="spacingAndGlyphs" fill="#111">Разработал</text>
<text x="721.90" y="825.20" font-size="10" text-anchor="start" textLength="46.0" lengthAdjust="spacingAndGlyphs" fill="#111">Шабалина</text>
<text x="828.60" y="826.50" font-size="10.2" text-anchor="start" textLength="21.0" lengthAdjust="spacingAndGlyphs" fill="#111">10.21</text>
<text x="659.20" y="855.20" font-size="10" text-anchor="start" textLength="35.5" lengthAdjust="spacingAndGlyphs" fill="#111">Н. контр.</text>
<text x="721.90" y="855.20" font-size="10" text-anchor="start" textLength="52.0" lengthAdjust="spacingAndGlyphs" fill="#111">Двоеглазов</text>
<text x="828.60" y="857.00" font-size="10.2" text-anchor="start" textLength="21.0" lengthAdjust="spacingAndGlyphs" fill="#111">10.21</text>
<text x="659.20" y="871.10" font-size="10" text-anchor="start" textLength="17.0" lengthAdjust="spacingAndGlyphs" fill="#111">ГИП</text>
<text x="724.80" y="871.10" font-size="10.5" text-anchor="start" textLength="46.0" lengthAdjust="spacingAndGlyphs" fill="#111">Коротаев</text>
<text x="828.60" y="872.00" font-size="10.2" text-anchor="start" textLength="21.0" lengthAdjust="spacingAndGlyphs" fill="#111">10.21</text>
<text x="1035.00" y="742.00" font-size="13.2" text-anchor="middle" fill="#111">48-21П - АР</text>
<text x="869.60" y="765.40" font-size="10.7" text-anchor="start" fill="#111">Здание склада, расположенное по адресу: Московская область, район</text>
<text x="868.00" y="778.00" font-size="10.7" text-anchor="start" fill="#111">Чеховский, СП Баранцевское, в районе д.Люторецкое  (кадастровый</text>
<text x="954.20" y="791.20" font-size="10.7" text-anchor="start" textLength="170.5" lengthAdjust="spacingAndGlyphs" fill="#111">номер участка 50:31:0060205:252)</text>
<text x="862.80" y="823.70" font-size="10.7" text-anchor="start" font-style="italic" textLength="193.5" lengthAdjust="spacingAndGlyphs" fill="#111">ИП Гавашели Наталья Владимировна</text>
<text x="938.20" y="862.00" font-size="10.5" text-anchor="start" textLength="52.5" lengthAdjust="spacingAndGlyphs" fill="#111">Разрез 1-1</text>
<text x="1105.80" y="869.00" font-size="12.8" text-anchor="start" textLength="86.5" lengthAdjust="spacingAndGlyphs" fill="#111">ООО "Альянс"</text>
<text x="1071.80" y="812.70" font-size="12.7" text-anchor="start" textLength="44.0" lengthAdjust="spacingAndGlyphs" fill="#111">Стадия</text>
<text x="1124.80" y="812.70" font-size="12.7" text-anchor="start" textLength="28.5" lengthAdjust="spacingAndGlyphs" fill="#111">Лист</text>
<text x="1169.00" y="812.70" font-size="12.7" text-anchor="start" fill="#111">Листов</text>
<text x="1093.40" y="834.00" font-size="12.7" text-anchor="middle" fill="#111">ЭП</text>
<text x="1141.50" y="834.00" font-size="12.7" text-anchor="middle" fill="#111">13</text>
<text x="1188.00" y="834.00" font-size="12.7" text-anchor="middle" fill="#111">15</text>
<g fill="none" stroke="#111" stroke-width="1.15" stroke-linecap="round" stroke-linejoin="round">
<path d="M784.5,818 C783,815.5 782.8,812.8 785,812.6 C787.5,812.4 789.5,813 791.5,813.4"/>
<path d="M791.3,809.5 C790.6,814 788.4,822 787.6,826.2 C787.8,828.3 789.3,827.6 789.8,825 C790.4,821.5 791.3,818.6 792.6,816.8 C792.1,820.5 791.6,825 792.6,827.2 C793.8,828.4 794.8,826.2 795.2,823.2 C795.6,820.4 795.9,818.6 796.2,817.6 C795.6,821.4 795.3,825.2 796.7,827.4 C798,828.6 799.6,826.8 800.2,824.4 C800.9,821.6 799.6,820.2 798.5,821.2 C797,823 797.4,827.2 799.6,827.6 C801.4,827.8 802.4,825.2 803,823 C804.4,819.4 806.8,814 809.8,810.4 C810.3,815.6 808.6,825.2 806,833 C804.2,838.6 801.8,843.2 800.6,841.2 C799.4,838 803,830 806.4,825.8 C810.2,821 814.6,816 817.6,812.4 C818,818 815.2,828 813.2,834 C811.6,839 809.6,842.2 808.6,840.2 C808,836 811,829.2 814,826 C816,823.8 818,822.2 818.8,821.4"/>
<path d="M817.2,826.2 C820,823.8 824,821.6 827.2,821.4 L828.6,821.5"/>
<path d="M787,864.4 C791,859 796,853.5 800.2,850 L803.6,845" stroke-width="1.9"/>
<path d="M801.3,848.3 C800,851 799,854 799.4,855.4 C800.6,856.6 803,855.6 805,854.4 C807,853.4 808.5,853.2 809.2,853.4 C807.5,855 806,856.6 805.8,857.8"/>
<path d="M810.2,855 C815,851.5 820,849 825.2,847.8 C828,847.2 830.5,847.1 832.4,847.2"/>
<path d="M786.3,874.2 C785,870 792,862 800,860 C806,858.6 806,863 802,867.5 C798,872 791,877 787.6,875.6 Z"/>
<path d="M789.5,876.5 C789,871.5 796,864.5 803,862.6 C808.5,861.2 808,865.8 804,870 C800,874.5 793.6,878.6 789.5,876.5 Z"/>
<path d="M797,866 C799,862 803,860.5 806,861 M795.5,868.5 C800,863 806,862 808,863.6"/>
<path d="M801.2,874.8 C806,868 812,861 818,856.2 M803.4,875 C808.5,868.4 814.6,861.6 820.2,857.2 M805.6,874.6 C810.5,868.8 815.6,863 821.8,858.6 M807,873.8 C811,869 816,864 819.6,860.6"/>
<path d="M810,859.6 C813,857 816.6,855 820.4,853.6 M814.2,858.6 C816.8,856.2 818.8,854.6 821.2,854"/>
<path d="M806.9,874.4 L801.9,883.3"/>
<path d="M788,873.6 C788.5,868 797,862 804.5,861 C809,860.6 807.6,865 803,869.5 C798.5,873.6 791.5,876.8 788,873.6 Z"/>
<path d="M798.6,876.2 C803.4,869.6 810.6,862 816.8,857.6 M804.6,876.6 C810,869.6 815,864.2 820.8,859.6"/>
<path d="M809,856.6 C812,854.6 816,852.6 821,851.6" stroke-width="1.6"/>
</g>
</svg></body></html>
